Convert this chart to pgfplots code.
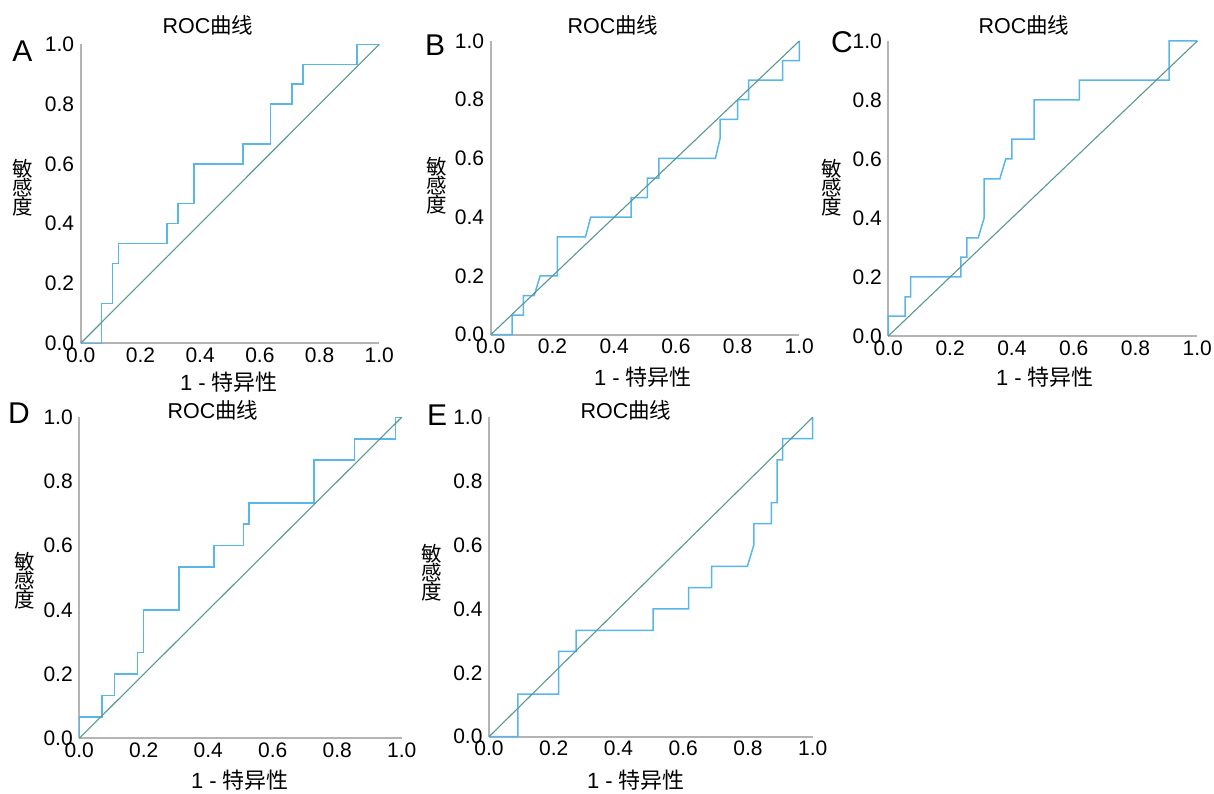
\documentclass[border=0pt]{standalone}
\usepackage{pgfplots}
\pgfplotsset{compat=1.18}
\usepackage{fontspec}
\setmainfont{Liberation Sans}
\newfontfamily\cjk{Noto Sans CJK SC}
\definecolor{curveblue}{RGB}{88,182,232}
\definecolor{diagteal}{RGB}{88,152,146}
\definecolor{axisgray}{RGB}{180,180,180}
\pgfplotsset{
  rocstyle/.style={
    scale only axis,
    axis lines*=left,
    xmin=0,xmax=1,ymin=0,ymax=1,
    enlargelimits=false,
    clip=false,
    xtick={0,0.2,0.4,0.6,0.8,1},
    ytick={0,0.2,0.4,0.6,0.8,1},
    major tick length=0pt,
    axis line style={line width=2pt,color=axisgray},
    tick label style={font=\fontsize{21}{21}\selectfont},
    yticklabel style={xshift=-3pt},
    xticklabel style={yshift=-1pt},
    /pgf/number format/fixed,
    /pgf/number format/fixed zerofill,
    /pgf/number format/precision=1,
    /pgf/number format/assume math mode=true,
  },
  curve/.style={color=curveblue,line width=1.5pt},
  diag/.style={color=diagteal,line width=1.1pt},
}
\newcommand{\ttl}{\fontsize{21.5}{21.5}\selectfont ROC{\cjk 曲线}}
\newcommand{\xl}{\fontsize{22}{22}\selectfont 1 - {\cjk 特异性}}
\tikzset{ylab/.style={align=center,font=\cjk\fontsize{20.5}{19}\selectfont}}
\newcommand{\yl}{敏\\感\\度}
\newcommand{\pl}[1]{\fontsize{30}{30}\selectfont #1}
\begin{document}
\begin{tikzpicture}[x=1pt,y=1pt]
\useasboundingbox (0,0) rectangle (1214,793);
% Panel A
\begin{axis}[rocstyle,at={(80.7pt,449.7pt)},anchor=south west,width=298.6pt,height=299pt]
\addplot[curve] coordinates {(0,0)(0.070,0)(0.070,0.133)(0.107,0.133)(0.107,0.267)(0.126,0.267)(0.126,0.333)(0.289,0.333)(0.289,0.4)(0.326,0.4)(0.326,0.467)(0.379,0.467)(0.379,0.6)(0.544,0.6)(0.544,0.667)(0.635,0.667)(0.635,0.8)(0.708,0.8)(0.708,0.867)(0.744,0.867)(0.744,0.933)(0.925,0.933)(0.925,1)(1,1)};
\addplot[diag] coordinates {(0,0)(1,1)};
\end{axis}
% Panel B
\begin{axis}[rocstyle,at={(490.7pt,458.3pt)},anchor=south west,width=308.6pt,height=293.7pt]
\addplot[curve] coordinates {(0,0)(0.069,0)(0.069,0.067)(0.106,0.067)(0.106,0.133)(0.141,0.133)(0.160,0.2)(0.216,0.2)(0.216,0.333)(0.307,0.333)(0.324,0.4)(0.455,0.4)(0.455,0.467)(0.508,0.467)(0.508,0.533)(0.545,0.533)(0.545,0.6)(0.728,0.6)(0.743,0.667)(0.743,0.733)(0.800,0.733)(0.800,0.8)(0.836,0.8)(0.836,0.867)(0.946,0.867)(0.946,0.933)(1,0.933)(1,1)};
\addplot[diag] coordinates {(0,0)(1,1)};
\end{axis}
% Panel C
\begin{axis}[rocstyle,at={(888.3pt,457pt)},anchor=south west,width=309pt,height=295pt]
\addplot[curve] coordinates {(0,0)(0,0.067)(0.054,0.067)(0.054,0.133)(0.072,0.133)(0.072,0.2)(0.235,0.2)(0.235,0.267)(0.254,0.267)(0.254,0.333)(0.291,0.333)(0.310,0.4)(0.310,0.533)(0.361,0.533)(0.380,0.6)(0.400,0.6)(0.400,0.667)(0.472,0.667)(0.472,0.8)(0.618,0.8)(0.618,0.867)(0.909,0.867)(0.909,1)(1,1)};
\addplot[diag] coordinates {(0,0)(1,1)};
\end{axis}
% Panel D
\begin{axis}[rocstyle,at={(79.3pt,54.7pt)},anchor=south west,width=322.4pt,height=321pt]
\addplot[curve] coordinates {(0,0)(0,0.067)(0.071,0.067)(0.071,0.133)(0.109,0.133)(0.109,0.2)(0.181,0.2)(0.181,0.267)(0.199,0.267)(0.199,0.4)(0.309,0.4)(0.309,0.533)(0.418,0.533)(0.418,0.6)(0.509,0.6)(0.509,0.667)(0.527,0.667)(0.527,0.733)(0.728,0.733)(0.728,0.867)(0.854,0.867)(0.854,0.933)(0.981,0.933)(0.981,1)(1,1)};
\addplot[diag] coordinates {(0,0)(1,1)};
\end{axis}
% Panel E
\begin{axis}[rocstyle,at={(489pt,56.3pt)},anchor=south west,width=323.7pt,height=319.4pt]
\addplot[curve] coordinates {(0,0)(0.089,0)(0.089,0.133)(0.215,0.133)(0.215,0.267)(0.269,0.267)(0.269,0.333)(0.507,0.333)(0.507,0.4)(0.617,0.4)(0.617,0.467)(0.688,0.467)(0.688,0.533)(0.798,0.533)(0.818,0.6)(0.818,0.667)(0.872,0.667)(0.872,0.733)(0.890,0.733)(0.890,0.867)(0.907,0.867)(0.907,0.933)(1,0.933)(1,1)};
\addplot[diag] coordinates {(0,0)(1,1)};
\end{axis}
% Titles
\node at (208,768) {\ttl};
\node at (613,768) {\ttl};
\node at (1024,768) {\ttl};
\node at (213,383) {\ttl};
\node at (626,383) {\ttl};
% x labels
\node at (229,411) {\xl};
\node at (643,416) {\xl};
\node at (1045,416) {\xl};
\node at (240,13) {\xl};
\node at (636,13) {\xl};
% y labels
\node[ylab] at (23,605) {\yl};
\node[ylab] at (437,607) {\yl};
\node[ylab] at (832,605) {\yl};
\node[ylab] at (25,212) {\yl};
\node[ylab] at (432,220) {\yl};
% panel letters
\node at (22.5,742) {\pl{A}};
\node at (435,748) {\pl{B}};
\node at (842,751) {\pl{C}};
\node at (19,380) {\pl{D}};
\node at (437,378) {\pl{E}};
\end{tikzpicture}
\end{document}
